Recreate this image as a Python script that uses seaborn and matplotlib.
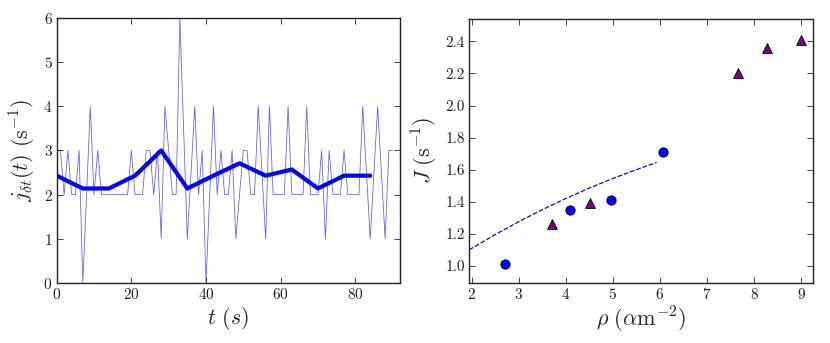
import numpy as np
import pandas as pd
import seaborn as sns
import matplotlib.pyplot as plt

# left panel: instantaneous flow (1 s samples) and 7 s average
t_fine = list(range(0, 91))
j_fine = [3, 3, 2, 3, 2, 2, 3, 0, 2, 4,
          2, 3, 2, 2, 2, 2, 2, 2, 2, 2,
          3, 2, 2, 2, 3, 3, 2, 3, 1, 4,
          3, 2, 2, 6, 3.5, 1, 2.5, 4, 2, 3,
          0, 2, 4, 2, 3, 2, 2, 3, 1, 2,
          3, 3, 2, 2, 4, 2.5, 1, 4, 2, 2,
          2, 2, 4, 2, 2, 2, 2, 4, 2, 2,
          2, 3, 1, 3, 2, 2, 2, 3, 2, 2,
          2, 2, 4, 2.5, 1, 2.5, 4, 2.5, 1, 3,
          3]
t_avg = [0, 7, 14, 21, 28, 35, 42, 49, 56, 63, 70, 77, 84]
j_avg = [2.43, 2.14, 2.14, 2.43, 3.0, 2.14, 2.43, 2.71, 2.43, 2.57, 2.14, 2.43, 2.43]

# right panel: flow vs density
rho_circ = [2.71, 4.10, 4.96, 6.06]
J_circ = [1.01, 1.35, 1.41, 1.71]
rho_tri = [3.71, 4.51, 7.65, 8.28, 9.0]
J_tri = [1.26, 1.39, 2.20, 2.36, 2.41]
rho_fit = [1.95, 2.5, 3.0, 3.5, 4.0, 4.5, 5.0, 5.5, 5.93]
J_fit = [1.10, 1.195, 1.275, 1.35, 1.42, 1.485, 1.545, 1.60, 1.645]

sns.set_style("ticks")
plt.rcParams['font.family'] = ['cmr10', 'DejaVu Serif']
plt.rcParams['mathtext.fontset'] = 'cm'
plt.rcParams['axes.formatter.use_mathtext'] = True
plt.rcParams['axes.unicode_minus'] = False

fig = plt.figure(figsize=(8.3, 3.43), dpi=100)
ax1 = fig.add_axes([0.0683, 0.175, 0.4137, 0.7725])
ax2 = fig.add_axes([0.5654, 0.176, 0.4146, 0.7686])

fine = pd.DataFrame({"t": t_fine, "j": j_fine})
avg = pd.DataFrame({"t": t_avg, "j": j_avg})
sns.lineplot(data=fine, x="t", y="j", ax=ax1, color="#0000ff", lw=0.55, alpha=0.65)
sns.lineplot(data=avg, x="t", y="j", ax=ax1, color="#0000ff", lw=3)
ax1.set_xlim(0, 92)
ax1.set_ylim(0, 6)
ax1.set_xticks([0, 20, 40, 60, 80])
ax1.set_yticks([0, 1, 2, 3, 4, 5, 6])
ax1.set_xlabel(r"$t\ (s)$", fontsize=16, labelpad=2)
ax1.set_ylabel(r"$j_{\delta t}(t)\ (\mathrm{s}^{-1})$", fontsize=16, labelpad=4)

fit = pd.DataFrame({"rho": rho_fit, "J": J_fit})
sns.lineplot(data=fit, x="rho", y="J", ax=ax2, color="#0000ff", lw=0.9, linestyle="--")
sns.scatterplot(x=rho_circ, y=J_circ, ax=ax2, marker="o", s=45, color="#0000ff",
                edgecolor="black", linewidth=0.6, zorder=3)
sns.scatterplot(x=rho_tri, y=J_tri, ax=ax2, marker="^", s=50, color="#800080",
                edgecolor="black", linewidth=0.6, zorder=3)
ax2.set_xlim(1.95, 9.26)
ax2.set_ylim(0.895, 2.54)
ax2.set_xticks([2, 3, 4, 5, 6, 7, 8, 9])
ax2.set_yticks([1.0, 1.2, 1.4, 1.6, 1.8, 2.0, 2.2, 2.4])
ax2.set_yticklabels(["1.0", "1.2", "1.4", "1.6", "1.8", "2.0", "2.2", "2.4"])
ax2.set_xlabel(r"$\rho\ (\alpha\mathrm{m}^{-2})$", fontsize=16, labelpad=2)
ax2.set_ylabel(r"$J\ (\mathrm{s}^{-1})$", fontsize=16, labelpad=4)

for ax in (ax1, ax2):
    for sp in ax.spines.values():
        sp.set_visible(True)
        sp.set_linewidth(1.0)
        sp.set_color("#222222")
    ax.tick_params(direction="in", length=4, width=0.6, top=True, right=True,
                   labelsize=11, pad=3, colors="#222222")
    ax.grid(False)

fig.savefig("out.png", dpi=100)
